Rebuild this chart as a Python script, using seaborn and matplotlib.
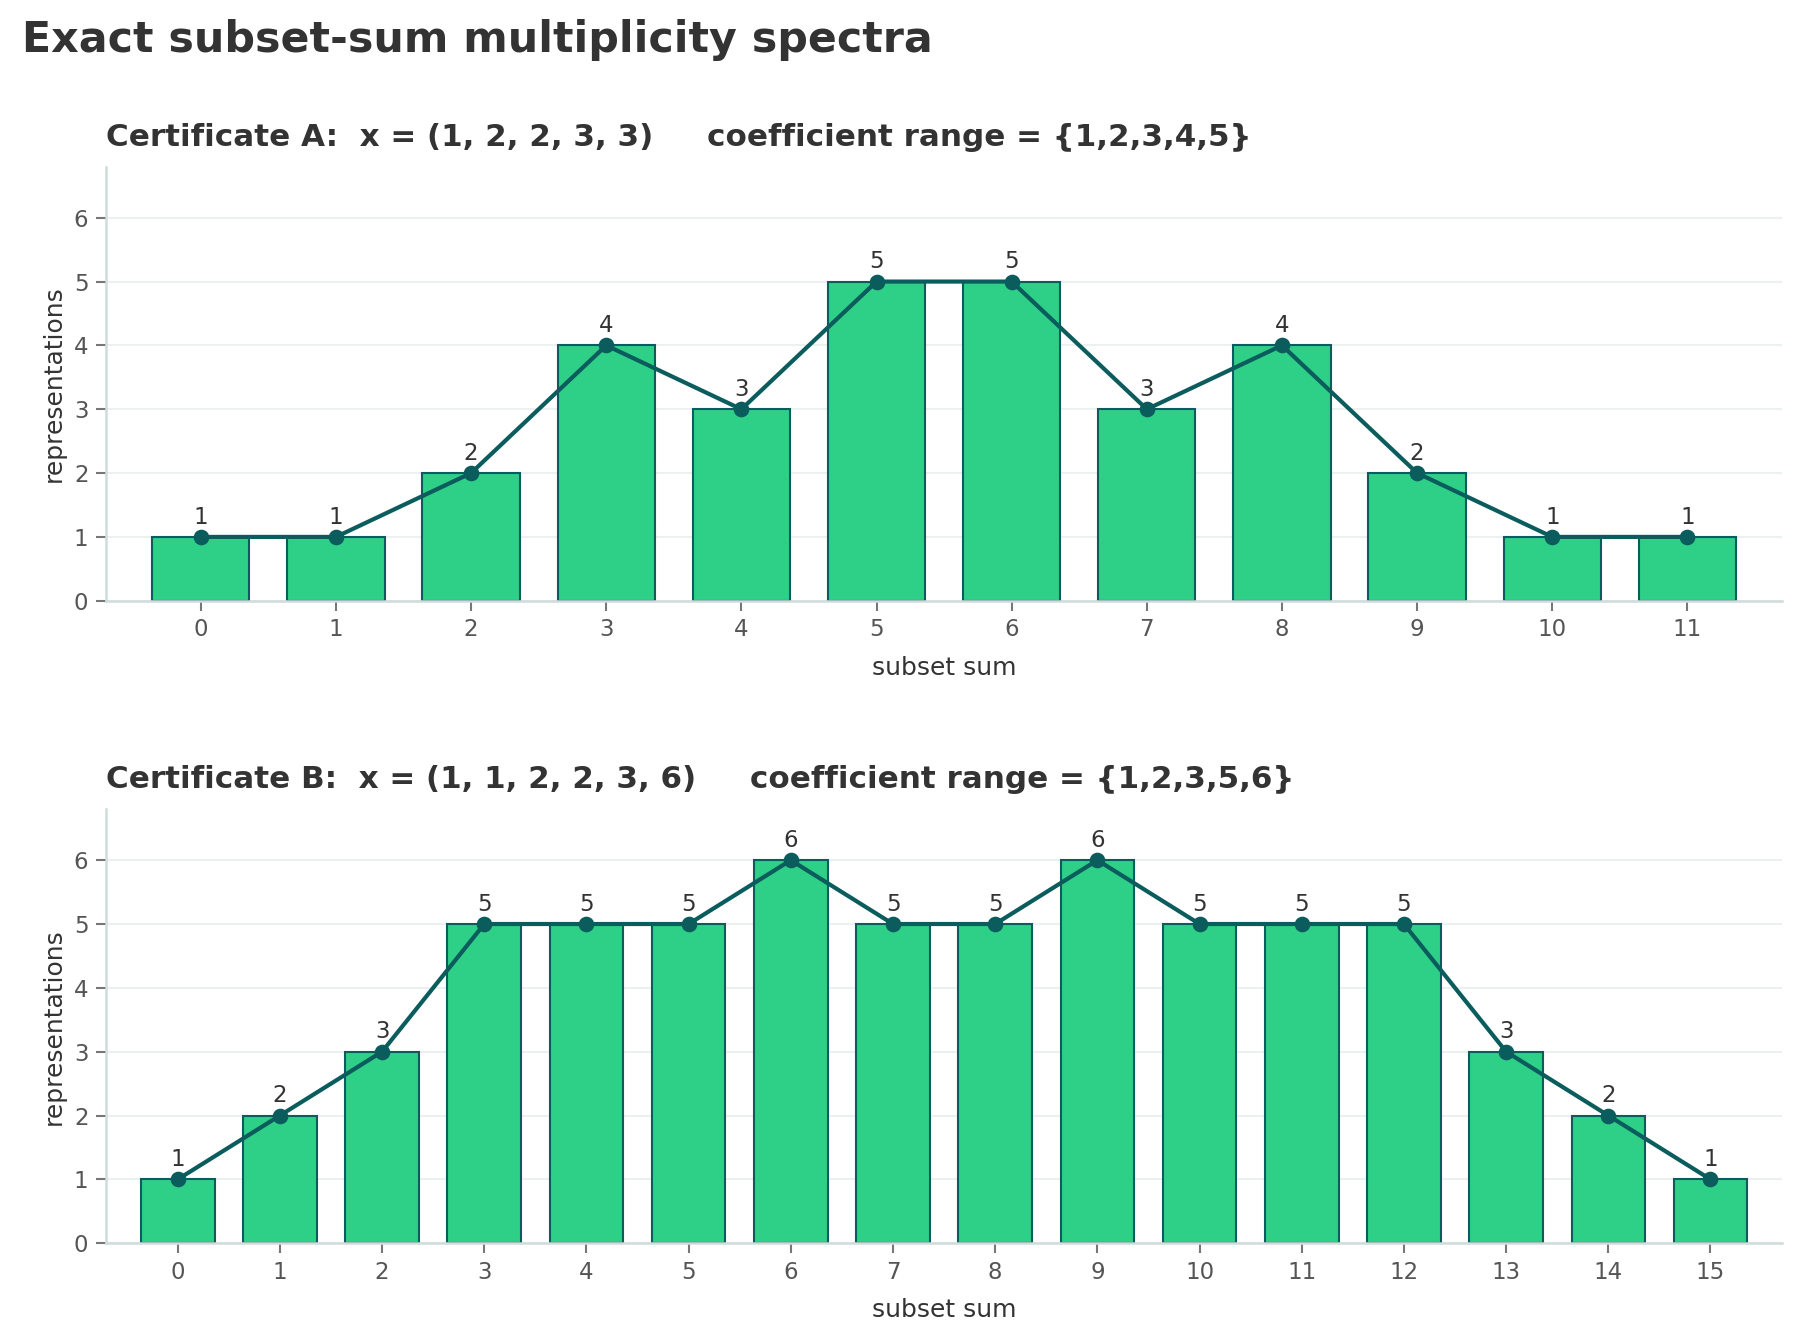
import matplotlib
matplotlib.use("Agg")
import matplotlib.pyplot as plt
import seaborn as sns
import pandas as pd

# subset sums and how many subsets reach each one
sums_a = list(range(12))
counts_a = [1, 1, 2, 4, 3, 5, 5, 3, 4, 2, 1, 1]
title_a = "Certificate A:  x = (1, 2, 2, 3, 3)     coefficient range = {1,2,3,4,5}"

sums_b = list(range(16))
counts_b = [1, 2, 3, 5, 5, 5, 6, 5, 5, 6, 5, 5, 5, 3, 2, 1]
title_b = "Certificate B:  x = (1, 1, 2, 2, 3, 6)     coefficient range = {1,2,3,5,6}"

BAR = "#2ecf87"
DARK = "#0b5c5d"
SPINE = "#cfdcdc"
TEXT = "#333333"
TICK = "#555555"

sns.set_theme(style="white")
plt.rcParams['font.family'] = ['DejaVu Sans']


def spectrum(ax, sums, counts, title):
    df = pd.DataFrame({"sum": sums, "count": counts})
    sns.barplot(data=df, x="sum", y="count", color=BAR, width=0.72,
                edgecolor=DARK, linewidth=1.0, saturation=1, ax=ax, zorder=2)
    ax.plot(range(len(sums)), counts, color=DARK, linewidth=2,
            marker="o", markersize=6.5, zorder=3)
    for i, c in enumerate(counts):
        ax.annotate(str(c), (i, c), xytext=(0, 4), textcoords="offset points",
                    ha="center", va="bottom", fontsize=11, color=TEXT)
    ax.set_xlim(-0.7, len(sums) - 1 + 0.7)
    ax.set_ylim(0, 6.8)
    ax.set_yticks(range(7))
    ax.grid(axis="y", color="#ebf0f0", linewidth=1, zorder=0)
    ax.set_axisbelow(True)
    for s in ["top", "right"]:
        ax.spines[s].set_visible(False)
    for s in ["left", "bottom"]:
        ax.spines[s].set_color(SPINE)
        ax.spines[s].set_linewidth(1.2)
    ax.tick_params(axis="both", colors=TICK, labelsize=11, length=5,
                   width=1, bottom=True, left=True)
    ax.tick_params(axis="both", which="major", color="#777777")
    ax.set_xlabel("subset sum", fontsize=12, color=TEXT, labelpad=7)
    ax.set_ylabel("representations", fontsize=12, color=TEXT)
    ax.set_title(title, loc="left", fontsize=14.9, fontweight="bold",
                 color=TEXT, pad=10)


fig, axes = plt.subplots(2, 1, figsize=(12, 8.96), dpi=150)
plt.subplots_adjust(left=0.059, right=0.99, top=0.876, bottom=0.075, hspace=0.48)

spectrum(axes[0], sums_a, counts_a, title_a)
spectrum(axes[1], sums_b, counts_b, title_b)

fig.text(0.012, 0.97, "Exact subset-sum multiplicity spectra", fontsize=20.5,
         fontweight="bold", color=TEXT, ha="left", va="center")

plt.savefig("out.png", dpi=150)
